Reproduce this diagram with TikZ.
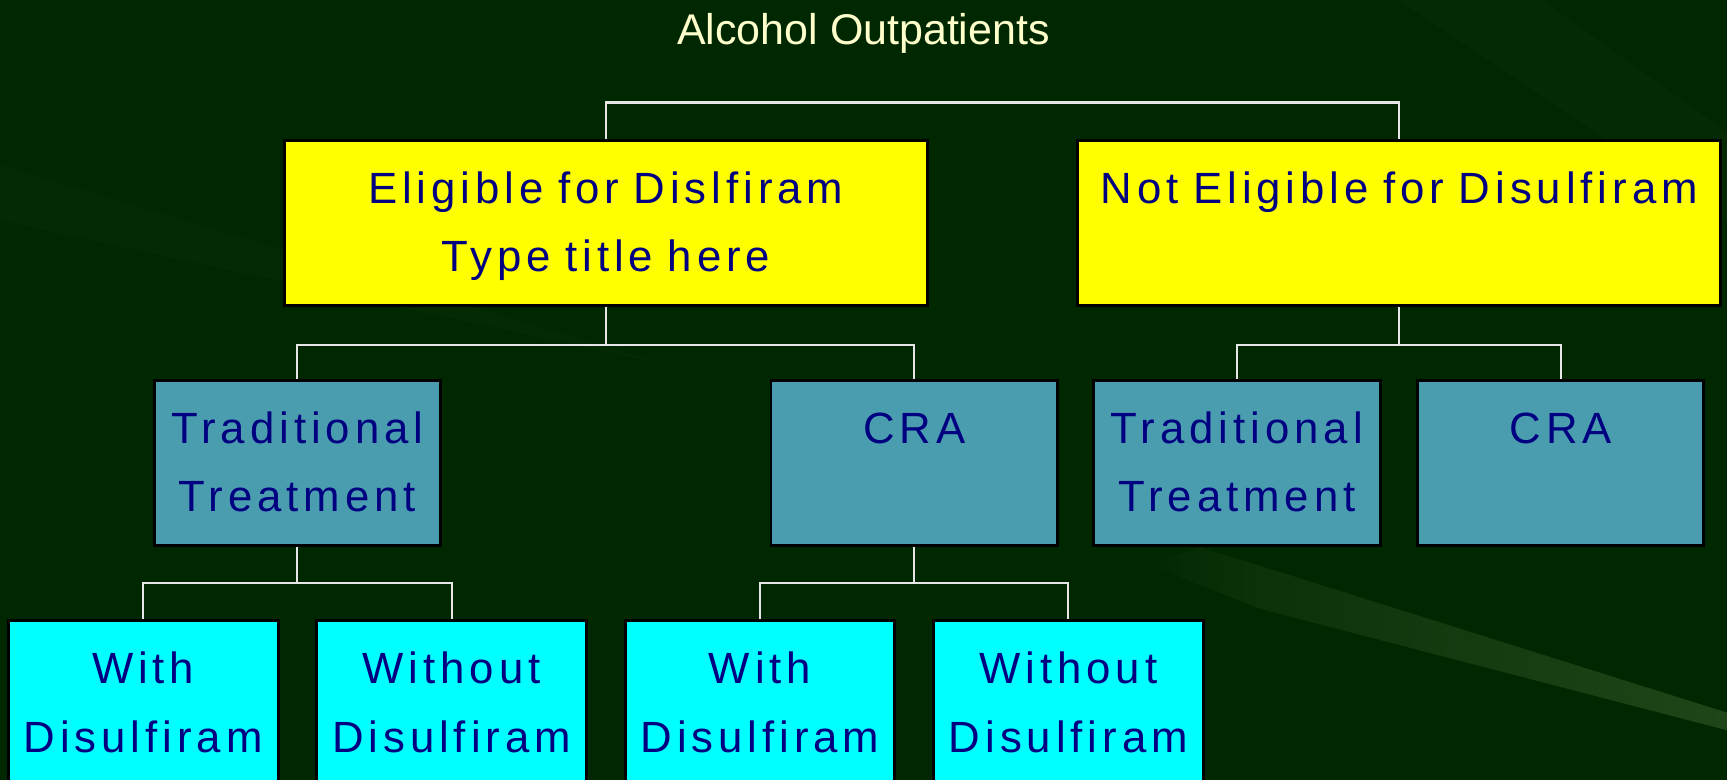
\documentclass[tikz,border=0pt]{standalone}
\usepackage{fontspec}
\setmainfont{Liberation Sans}
\newfontfamily\boxfont[LetterSpace=11.3,WordSpace=1.4]{Liberation Sans}
\definecolor{bg}{RGB}{0,40,0}
\definecolor{streak}{RGB}{30,70,24}
\definecolor{streakmid}{RGB}{12,50,10}
\definecolor{navytext}{RGB}{0,0,128}
\definecolor{titlecol}{RGB}{255,255,204}
\definecolor{boxteal}{RGB}{74,157,175}
\definecolor{boxyellow}{RGB}{255,255,0}
\definecolor{boxcyan}{RGB}{0,255,255}
\definecolor{connc}{RGB}{230,230,230}
\begin{document}
\begin{tikzpicture}[x=0.02cm,y=-0.02cm,
  box/.style={draw=black,line width=1.5pt,inner xsep=0pt,inner ysep=0pt,
    minimum height=3cm,text height=1.15cm,text depth=1.85cm,align=center,
    text=navytext,font=\boxfont\fontsize{22.6}{35.3}\selectfont},
  yellowbox/.style={box,fill=boxyellow,minimum width=11.68cm,text width=11.68cm},
  tealbox/.style={box,fill=boxteal,minimum width=5.2cm,text width=5.2cm},
  cyanbox/.style={box,fill=boxcyan,minimum width=4.9cm,text width=4.9cm},
  conn/.style={draw=connc,line width=1.1pt},
  titlestyle/.style={text=titlecol,font=\fontsize{22.2}{26}\selectfont,inner sep=0pt}]
\useasboundingbox (0,0) rectangle (1568,708);
\clip (0,0) rectangle (1568,708);
\fill[bg] (0,0) rectangle (1568,708);
\shade[left color=bg,right color=streakmid] (1040,512) -- (1090,497) -- (1145,514) -- (1145,553) -- cycle;
\shade[left color=streakmid,right color=streak] (1145,553) -- (1145,514) -- (1568,647) -- (1568,663) -- cycle;
\fill[white,opacity=0.012] (0,150) -- (600,330) -- (0,200) -- cycle;
\fill[white,opacity=0.012] (1270,0) -- (1400,0) -- (1568,120) -- (1568,200) -- cycle;

\node[titlestyle,anchor=base] (title) at (784,40) {Alcohol Outpatients};

\node[yellowbox,anchor=north] (elig) at (550,126) {Eligible for Dislfiram\\Type title here};
\node[yellowbox,anchor=north] (nelig) at (1270.5,126) {Not Eligible for Disulfiram};

\node[tealbox,anchor=north] (tt1) at (270,344) {Traditional\\Treatment};
\node[tealbox,anchor=north] (cra1) at (830,344) {CRA};
\node[tealbox,anchor=north] (tt2) at (1123,344) {Traditional\\Treatment};
\node[tealbox,anchor=north] (cra2) at (1417,344) {CRA};

\node[cyanbox,anchor=north] (w1) at (130,562) {With\\Disulfiram};
\node[cyanbox,anchor=north] (wo1) at (410,562) {Without\\Disulfiram};
\node[cyanbox,anchor=north] (w2) at (690,562) {With\\Disulfiram};
\node[cyanbox,anchor=north] (wo2) at (970,562) {Without\\Disulfiram};

\coordinate (topjoin) at ([yshift=0.66cm]elig.north);
\draw[conn] (elig.north) -- (topjoin) -| (nelig.north);

\draw[conn] (elig.south) -- ++(0,35) -| (tt1.north);
\draw[conn] (elig.south) -- ++(0,35) -| (cra1.north);
\draw[conn] (nelig.south) -- ++(0,35) -| (tt2.north);
\draw[conn] (nelig.south) -- ++(0,35) -| (cra2.north);
\draw[conn] (tt1.south) -- ++(0,33) -| (w1.north);
\draw[conn] (tt1.south) -- ++(0,33) -| (wo1.north);
\draw[conn] (cra1.south) -- ++(0,33) -| (w2.north);
\draw[conn] (cra1.south) -- ++(0,33) -| (wo2.north);
\end{tikzpicture}
\end{document}
